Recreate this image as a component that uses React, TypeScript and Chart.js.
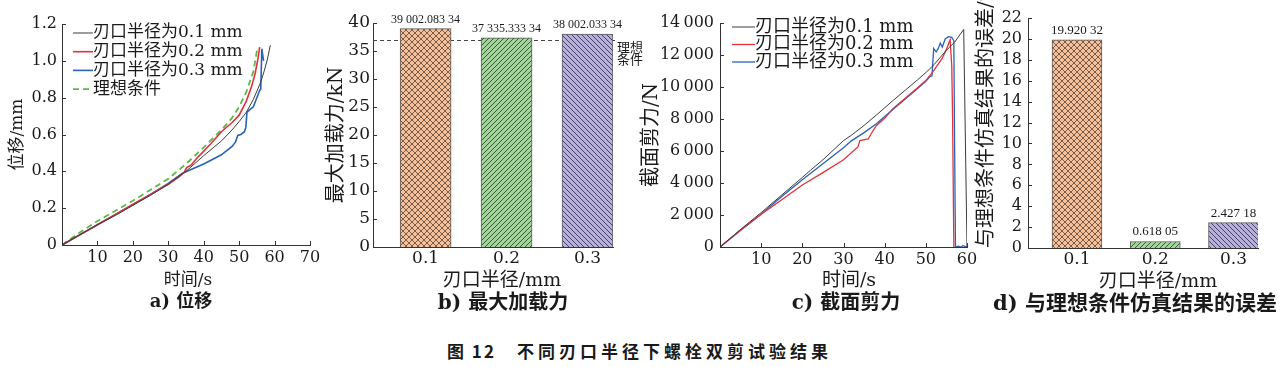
import React, { useEffect, useRef } from "react";
import { Chart, registerables } from "chart.js";

Chart.register(...registerables);

// ---------------- data ----------------
const SERIES_LABELS = ["刃口半径为0.1 mm", "刃口半径为0.2 mm", "刃口半径为0.3 mm"];
const IDEAL_LABEL = "理想条件";
const IDEAL_LABEL_LINES = ["理想", "条件"];

// a) 位移 (time s, displacement mm)
const A_T_01 = [0, 5, 10, 15, 20, 25, 30, 35, 40, 45, 48, 50, 52, 54, 56, 57, 58, 58.8];
const A_D_01 = [0, 0.055, 0.11, 0.16, 0.215, 0.27, 0.33, 0.4, 0.485, 0.565, 0.625, 0.67, 0.72, 0.79, 0.88, 0.94, 1.01, 1.085];
const A_T_02 = [0, 5, 10, 15, 20, 25, 30, 33, 34.5, 35.2, 36.5, 38, 40, 42, 45, 48, 50, 52, 53.5, 54.5, 55.3, 55.8];
const A_D_02 = [0, 0.055, 0.11, 0.165, 0.22, 0.275, 0.33, 0.37, 0.395, 0.42, 0.435, 0.47, 0.51, 0.55, 0.615, 0.665, 0.705, 0.78, 0.86, 0.93, 1.01, 1.075];
const A_T_03 = [0, 5, 10, 15, 20, 25, 30, 34, 40, 45, 48, 49, 49.6, 50.5, 51.5, 51.9, 52.2, 53, 54, 55, 55.8, 56.1, 56.4, 56.9];
const A_D_03 = [0, 0.055, 0.11, 0.165, 0.22, 0.275, 0.335, 0.39, 0.44, 0.49, 0.535, 0.56, 0.595, 0.6, 0.615, 0.64, 0.72, 0.735, 0.75, 0.8, 0.84, 0.845, 1.065, 1.0];
const A_T_IDEAL = [0, 5, 10, 15, 20, 25, 30, 35, 40, 45, 48, 50, 52, 54, 55.2];
const A_D_IDEAL = [0, 0.068, 0.13, 0.185, 0.24, 0.3, 0.36, 0.44, 0.53, 0.625, 0.69, 0.75, 0.83, 0.94, 1.075];

// b) 最大加载力
const RADII = [0.1, 0.2, 0.3];
const MAX_FORCE_N = [39002.08334, 37335.33334, 38002.03334];
const IDEAL_FORCE_KN = 37;

// c) 截面剪力 (time s, force N)
const C_T_01 = [0, 5, 10, 15, 20, 22, 25, 30, 32, 35, 38, 40, 42, 45, 48, 50, 52, 55, 57, 59.2, 60];
const C_F_01 = [0, 1100, 2150, 3250, 4350, 4800, 5450, 6650, 7000, 7600, 8250, 8700, 9150, 9800, 10450, 10900, 11400, 12300, 12800, 13600, 0];
const C_T_02 = [0, 5, 10, 15, 20, 25, 30, 33.5, 34, 36, 37, 38, 38.5, 40, 42, 45, 48, 50, 52, 54, 55, 55.9, 56.3, 56.5, 56.8];
const C_F_02 = [0, 1050, 2050, 2950, 3880, 4650, 5450, 6250, 6650, 6750, 7200, 7600, 7700, 8050, 8650, 9300, 9950, 10400, 11050, 11800, 12350, 12950, 11300, 8100, 0];
const C_T_03 = [0, 5, 10, 15, 20, 25, 30, 32, 35, 38, 40, 42, 45, 48, 50, 51, 51.5, 51.9, 52.5, 53, 53.5, 54, 54.7, 55.5, 56.3, 56.8, 57, 57.2, 58, 58.5, 59, 60];
const C_F_03 = [0, 1050, 2050, 3150, 4200, 5200, 6200, 6650, 7150, 7700, 8150, 8600, 9250, 9900, 10350, 10650, 10700, 12400, 12200, 12400, 12750, 12500, 13000, 13150, 13100, 12900, 6000, 0, 50, 0, 80, 0];

// d) 与理想条件仿真结果的误差 (%)
const ERROR_PCT = [19.92032, 0.61805, 2.42718];

// ---------------- styles ----------------
const SERIF = '"DejaVu Serif", "Noto Sans CJK SC", serif';
const LABEL_SERIF = '"Liberation Serif", "Noto Sans CJK SC", serif';
const CJK = '"Noto Sans CJK SC", sans-serif';
const AXIS = "#333333";
const TEXT = "#1a1a1a";
const C_BLACK = "#3c3c3c";
const C_RED = "#e2323c";
const C_BLUE = "#2a63b3";
const C_GREEN = "#5cb848";
const BAR_EDGE = "#5a5a5a";

function pairs(xs: number[], ys: number[]) {
  return xs.map((x, i) => ({ x, y: ys[i] }));
}

function groupDigits(n: number, decimals: number, sep = " ") {
  const s = n.toFixed(decimals);
  const [ip, dp] = s.split(".");
  const ig = ip.replace(/\B(?=(\d{3})+(?!\d))/g, sep);
  if (!dp) return ig;
  return ig + "." + dp.replace(/(\d{3})(?=\d)/g, "$1" + sep);
}

function hatch(ctx: CanvasRenderingContext2D, bg: string, line: string, size: number, fwd: boolean, back: boolean) {
  const c = document.createElement("canvas");
  c.width = size;
  c.height = size;
  const g = c.getContext("2d")!;
  g.fillStyle = bg;
  g.fillRect(0, 0, size, size);
  g.strokeStyle = line;
  g.lineWidth = 0.9;
  g.beginPath();
  if (fwd) {
    g.moveTo(-1, size + 1); g.lineTo(size + 1, -1);
    g.moveTo(-1, 1); g.lineTo(1, -1);
    g.moveTo(size - 1, size + 1); g.lineTo(size + 1, size - 1);
  }
  if (back) {
    g.moveTo(-1, -1); g.lineTo(size + 1, size + 1);
    g.moveTo(size - 1, -1); g.lineTo(size + 1, 1);
    g.moveTo(-1, size - 1); g.lineTo(1, size + 1);
  }
  g.stroke();
  return ctx.createPattern(c, "repeat")!;
}

// ---------------- plugins ----------------
const inwardTicks = {
  id: "inwardTicks",
  afterDraw(chart: any, _a: any, opts: any) {
    const { ctx, chartArea } = chart;
    ctx.save();
    ctx.strokeStyle = AXIS;
    ctx.lineWidth = 1;
    ctx.beginPath();
    if (opts.x) {
      const xs = chart.scales.x;
      xs.ticks.forEach((_t: any, i: number) => {
        const px = Math.round(xs.getPixelForTick(i)) + 0.5;
        ctx.moveTo(px, chartArea.bottom);
        ctx.lineTo(px, chartArea.bottom - 4);
      });
    }
    if (opts.y) {
      const ys = chart.scales.y;
      ys.ticks.forEach((_t: any, i: number) => {
        const py = Math.round(ys.getPixelForTick(i)) + 0.5;
        ctx.moveTo(chartArea.left, py);
        ctx.lineTo(chartArea.left + 4, py);
      });
    }
    ctx.stroke();
    ctx.restore();
  },
};

const panelLegend = {
  id: "panelLegend",
  afterDatasetsDraw(chart: any, _a: any, opts: any) {
    if (!opts || !opts.show) return;
    const { ctx, chartArea } = chart;
    ctx.save();
    ctx.font = opts.font;
    ctx.textBaseline = "middle";
    ctx.textAlign = "left";
    chart.data.datasets.forEach((ds: any, i: number) => {
      const y = chartArea.top + opts.top + i * opts.rowHeight;
      const x0 = chartArea.left + opts.left;
      ctx.beginPath();
      ctx.setLineDash(ds.borderDash || []);
      ctx.strokeStyle = ds.borderColor;
      ctx.lineWidth = ds.borderWidth;
      ctx.moveTo(x0, y);
      ctx.lineTo(x0 + opts.lineLength, y);
      ctx.stroke();
      ctx.setLineDash([]);
      ctx.fillStyle = TEXT;
      ctx.fillText(ds.label, x0 + opts.lineLength + opts.gap, y);
    });
    ctx.restore();
  },
};

const barValueLabels = {
  id: "barValueLabels",
  afterDatasetsDraw(chart: any, _a: any, opts: any) {
    if (!opts || !opts.labels) return;
    const { ctx } = chart;
    const meta = chart.getDatasetMeta(0);
    ctx.save();
    ctx.font = opts.font;
    ctx.fillStyle = TEXT;
    ctx.textAlign = "center";
    ctx.textBaseline = "bottom";
    meta.data.forEach((el: any, i: number) => {
      ctx.fillText(opts.labels[i], el.x, el.y - opts.gap);
    });
    ctx.restore();
  },
};

const idealLine = {
  id: "idealLine",
  beforeDatasetsDraw(chart: any, _a: any, opts: any) {
    if (!opts || opts.value === undefined) return;
    const { ctx, chartArea } = chart;
    const y = Math.round(chart.scales.y.getPixelForValue(opts.value)) + 0.5;
    ctx.save();
    ctx.strokeStyle = "#444";
    ctx.lineWidth = 1;
    ctx.setLineDash([4, 3]);
    ctx.beginPath();
    ctx.moveTo(chartArea.left, y);
    ctx.lineTo(chartArea.right + 2, y);
    ctx.stroke();
    ctx.setLineDash([]);
    ctx.font = opts.font;
    ctx.fillStyle = TEXT;
    ctx.textAlign = "left";
    ctx.textBaseline = "middle";
    opts.lines.forEach((t: string, i: number) => {
      ctx.fillText(t, chartArea.right + 4, y + 7 + i * 12);
    });
    ctx.restore();
  },
};

const base = {
  animation: false,
  responsive: false,
  devicePixelRatio: 1,
  events: [],
};

const noGrid = { display: false, drawTicks: false };

function tickFont(size: number) {
  return { family: SERIF, size, lineHeight: 1.2 };
}

// ---------------- configs ----------------
function configA(): any {
  return {
    type: "line",
    data: {
      datasets: [
        { label: SERIES_LABELS[0], data: pairs(A_T_01, A_D_01), borderColor: C_BLACK, borderWidth: 1, pointRadius: 0, tension: 0 },
        { label: SERIES_LABELS[1], data: pairs(A_T_02, A_D_02), borderColor: C_RED, borderWidth: 1.6, pointRadius: 0, tension: 0 },
        { label: SERIES_LABELS[2], data: pairs(A_T_03, A_D_03), borderColor: C_BLUE, borderWidth: 1.6, pointRadius: 0, tension: 0 },
        { label: IDEAL_LABEL, data: pairs(A_T_IDEAL, A_D_IDEAL), borderColor: C_GREEN, borderWidth: 1.8, borderDash: [6, 4], pointRadius: 0, tension: 0 },
      ],
    },
    options: {
      ...base,
      layout: { padding: { top: 24, right: 16, left: 0, bottom: 0 } },
      plugins: {
        legend: { display: false },
        tooltip: { enabled: false },
        inwardTicks: { x: true, y: true },
        panelLegend: { show: true, font: `17px ${SERIF}`, left: 11, top: 9, rowHeight: 18.7, lineLength: 20, gap: 0 },
      },
      scales: {
        x: {
          type: "linear", min: 0, max: 70,
          afterFit: (s: any) => { s.height = 27; },
          grid: noGrid, border: { color: AXIS },
          ticks: { stepSize: 10, padding: 3, color: TEXT, font: tickFont(16), maxRotation: 0, autoSkip: false,
            callback: (v: any) => (v === 0 ? "" : String(v)) },
        },
        y: {
          type: "linear", min: 0, max: 1.2,
          afterFit: (s: any) => { s.width = 62; },
          grid: noGrid, border: { color: AXIS },
          ticks: { stepSize: 0.2, padding: 5, color: TEXT, font: tickFont(16), autoSkip: false,
            callback: (v: any) => (v === 0 ? "0" : Number(v).toFixed(1)) },
          title: { display: true, text: "位移/mm", color: TEXT, font: { family: SERIF, size: 17, lineHeight: 1.2 }, padding: { top: 7, bottom: 0 } },
        },
      },
    },
    plugins: [inwardTicks, panelLegend],
  };
}

function configB(ctx: CanvasRenderingContext2D): any {
  const fills = [
    hatch(ctx, "#f6c19a", "#6a5040", 6, true, true),
    hatch(ctx, "#a2d599", "#2f4a2f", 5, true, false),
    hatch(ctx, "#b7b0dc", "#3a3552", 5, false, true),
  ];
  return {
    type: "bar",
    data: {
      datasets: [{
        data: RADII.map((r, i) => ({ x: r, y: MAX_FORCE_N[i] / 1000 })),
        backgroundColor: fills, borderColor: BAR_EDGE, borderWidth: 1, barThickness: 51,
      }],
    },
    options: {
      ...base,
      layout: { padding: { top: 23, right: 39, left: 0, bottom: 0 } },
      plugins: {
        legend: { display: false },
        tooltip: { enabled: false },
        inwardTicks: { x: false, y: true },
        barValueLabels: { labels: MAX_FORCE_N.map((v) => groupDigits(v, 5)), font: `12px ${LABEL_SERIF}`, gap: 3 },
        idealLine: { value: IDEAL_FORCE_KN, lines: IDEAL_LABEL_LINES, font: `13px ${CJK}` },
      },
      scales: {
        x: {
          type: "linear", min: 0.035, max: 0.3315, offset: false,
          afterFit: (s: any) => { s.height = 25; },
          afterBuildTicks: (s: any) => { s.ticks = RADII.map((v) => ({ value: v })); },
          grid: { ...noGrid, offset: false }, border: { color: AXIS },
          ticks: { padding: 1, color: TEXT, font: tickFont(17), maxRotation: 0, autoSkip: false,
            callback: (v: any) => Number(v).toFixed(1) },
        },
        y: {
          type: "linear", min: 0, max: 40,
          afterFit: (s: any) => { s.width = 51; },
          grid: noGrid, border: { color: AXIS },
          ticks: { stepSize: 5, padding: 3, color: TEXT, font: tickFont(17), autoSkip: false },
          title: { display: true, text: "最大加载力/kN", color: TEXT, font: { family: SERIF, size: 20, lineHeight: 1.2 }, padding: { top: 3, bottom: 0 } },
        },
      },
    },
    plugins: [idealLine, inwardTicks, barValueLabels],
  };
}

function configC(): any {
  return {
    type: "line",
    data: {
      datasets: [
        { label: SERIES_LABELS[0], data: pairs(C_T_01, C_F_01), borderColor: C_BLACK, borderWidth: 1, pointRadius: 0, tension: 0 },
        { label: SERIES_LABELS[1], data: pairs(C_T_02, C_F_02), borderColor: C_RED, borderWidth: 1.3, pointRadius: 0, tension: 0 },
        { label: SERIES_LABELS[2], data: pairs(C_T_03, C_F_03), borderColor: C_BLUE, borderWidth: 1.3, pointRadius: 0, tension: 0 },
      ],
    },
    options: {
      ...base,
      layout: { padding: { top: 23, right: 17, left: 0, bottom: 0 } },
      plugins: {
        legend: { display: false },
        tooltip: { enabled: false },
        inwardTicks: { x: true, y: true },
        panelLegend: { show: true, font: `18px ${SERIF}`, left: 12, top: 4, rowHeight: 17.5, lineLength: 23, gap: 0 },
      },
      scales: {
        x: {
          type: "linear", min: 0, max: 60,
          afterFit: (s: any) => { s.height = 25; },
          grid: noGrid, border: { color: AXIS },
          ticks: { stepSize: 10, padding: 3, color: TEXT, font: tickFont(16), maxRotation: 0, autoSkip: false,
            callback: (v: any) => (v === 0 ? "" : String(v)) },
        },
        y: {
          type: "linear", min: 0, max: 14000,
          afterFit: (s: any) => { s.width = 82; },
          grid: noGrid, border: { color: AXIS },
          ticks: { stepSize: 2000, padding: 6, color: TEXT, font: tickFont(16), autoSkip: false,
            callback: (v: any) => groupDigits(Number(v), 0, "\u2009") },
          title: { display: true, text: "截面剪力/N", color: TEXT, font: { family: SERIF, size: 20, lineHeight: 1.2 }, padding: { top: 2, bottom: 0 } },
        },
      },
    },
    plugins: [inwardTicks, panelLegend],
  };
}

function configD(ctx: CanvasRenderingContext2D): any {
  const fills = [
    hatch(ctx, "#f6c19a", "#6a5040", 6, true, true),
    hatch(ctx, "#a2d599", "#2f4a2f", 5, true, false),
    hatch(ctx, "#b7b0dc", "#3a3552", 5, false, true),
  ];
  return {
    type: "bar",
    data: {
      datasets: [{
        data: RADII.map((r, i) => ({ x: r, y: ERROR_PCT[i] })),
        backgroundColor: fills, borderColor: BAR_EDGE, borderWidth: 1, barThickness: 50,
      }],
    },
    options: {
      ...base,
      layout: { padding: { top: 18, right: 25, left: 0, bottom: 0 } },
      plugins: {
        legend: { display: false },
        tooltip: { enabled: false },
        inwardTicks: { x: false, y: true },
        barValueLabels: { labels: ERROR_PCT.map((v) => groupDigits(v, 5)), font: `13px ${LABEL_SERIF}`, gap: 3 },
      },
      scales: {
        x: {
          type: "linear", min: 0.0374, max: 0.3313, offset: false,
          afterFit: (s: any) => { s.height = 24; },
          afterBuildTicks: (s: any) => { s.ticks = RADII.map((v) => ({ value: v })); },
          grid: { ...noGrid, offset: false }, border: { color: AXIS },
          ticks: { padding: 1, color: TEXT, font: tickFont(17), maxRotation: 0, autoSkip: false,
            callback: (v: any) => Number(v).toFixed(1) },
        },
        y: {
          type: "linear", min: 0, max: 22,
          afterFit: (s: any) => { s.width = 65; },
          grid: noGrid, border: { color: AXIS },
          ticks: { stepSize: 2, padding: 6, color: TEXT, font: tickFont(16), autoSkip: false },
          title: { display: true, align: "start", text: "与理想条件仿真结果的误差/%", color: TEXT, font: { family: SERIF, size: 20, lineHeight: 1.2 }, padding: { top: 12, bottom: 0 } },
        },
      },
    },
    plugins: [inwardTicks, barValueLabels],
  };
}

// ---------------- components ----------------
function ChartCanvas({ left, width, height, build }: any) {
  const ref = useRef<HTMLCanvasElement>(null);
  useEffect(() => {
    const canvas = ref.current!;
    const ctx = canvas.getContext("2d")!;
    const chart = new Chart(ctx, build(ctx));
    return () => chart.destroy();
  }, []);
  return (
    <canvas
      ref={ref}
      width={width}
      height={height}
      style={{ position: "absolute", left, top: 0, width, height }}
    />
  );
}

function Label({ x, y, size, bold, family, children, spacing }: any) {
  return (
    <div
      style={{
        position: "absolute",
        left: x,
        top: y,
        transform: "translate(-50%, -50%)",
        whiteSpace: "nowrap",
        lineHeight: 1,
        fontSize: size,
        fontWeight: bold ? 700 : 400,
        fontFamily: family || SERIF,
        letterSpacing: spacing || 0,
        color: TEXT,
      }}
    >
      {children}
    </div>
  );
}

export default function App() {
  const H = 272;
  return (
    <div style={{ position: "fixed", left: 0, top: 0, width: 1283, height: 367, background: "#fff", overflow: "hidden" }}>
      <ChartCanvas left={0} width={326} height={H} build={() => configA()} />
      <ChartCanvas left={322} width={330} height={H} build={(ctx: any) => configB(ctx)} />
      <ChartCanvas left={638} width={346} height={H} build={() => configC()} />
      <ChartCanvas left={963} width={320} height={H} build={(ctx: any) => configD(ctx)} />

      <Label x={188} y={279} size={17}>时间/s</Label>
      <Label x={502} y={279} size={19}>刃口半径/mm</Label>
      <Label x={849} y={279} size={19}>时间/s</Label>
      <Label x={1158} y={280} size={19}>刃口半径/mm</Label>

      <Label x={181} y={301} size={18} bold>a) 位移</Label>
      <Label x={503} y={302} size={20} bold>b) 最大加载力</Label>
      <Label x={846} y={302} size={20} bold>c) 截面剪力</Label>
      <Label x={1135} y={302} size={21} bold>d) 与理想条件仿真结果的误差</Label>

      <div style={{ position: "absolute", left: 447, top: 342, fontFamily: CJK, fontWeight: 700, fontSize: 17, lineHeight: 1, color: TEXT, letterSpacing: 2, whiteSpace: "nowrap" }}>图 12</div>
      <div style={{ position: "absolute", left: 517, top: 342, fontFamily: CJK, fontWeight: 700, fontSize: 17, lineHeight: 1, color: TEXT, letterSpacing: 4, whiteSpace: "nowrap" }}>不同刃口半径下螺栓双剪试验结果</div>
    </div>
  );
}
